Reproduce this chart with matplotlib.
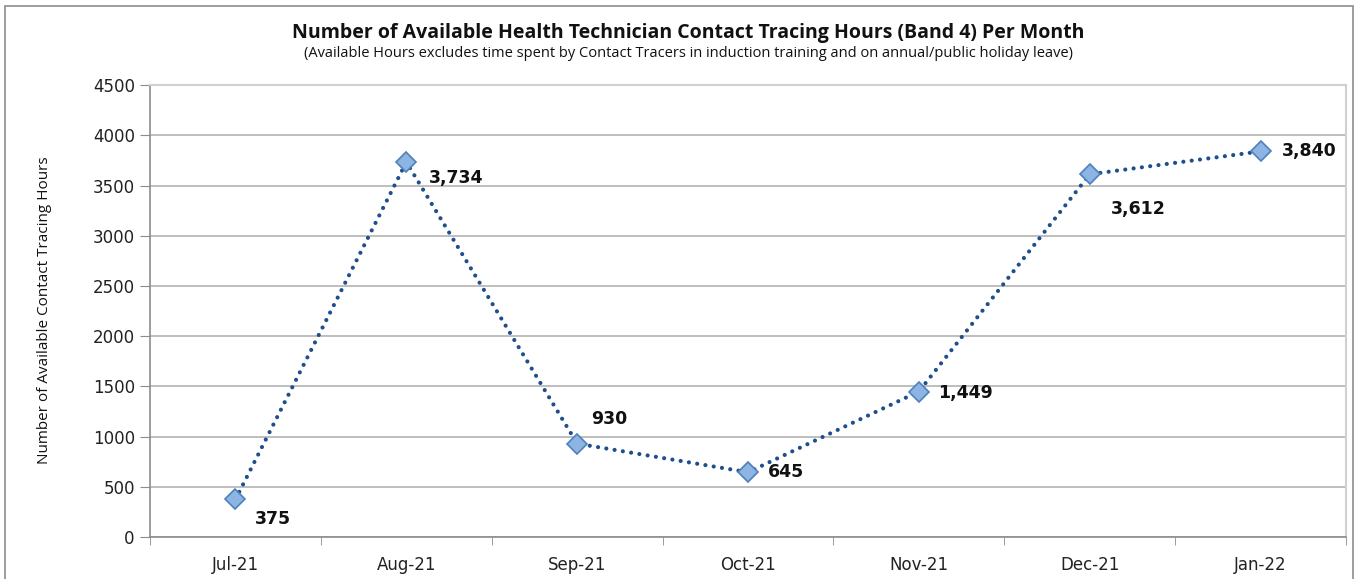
import matplotlib
matplotlib.use("Agg")
import matplotlib.pyplot as plt
from matplotlib.patches import Rectangle

months = ["Jul-21", "Aug-21", "Sep-21", "Oct-21", "Nov-21", "Dec-21", "Jan-22"]
hours = [375, 3734, 930, 645, 1449, 3612, 3840]
labels = ["375", "3,734", "930", "645", "1,449", "3,612", "3,840"]
label_offsets = [(14, -14), (16, -11.5), (10, 18), (14, 0), (14, -1), (15, -25), (15, 0)]
yticks = list(range(0, 4501, 500))

fig = plt.figure(figsize=(13.58, 5.79), dpi=100)
fig.patches.append(Rectangle((0.004, -0.01), 0.992, 1.0, transform=fig.transFigure,
                             fill=False, edgecolor="#8c8c8c", linewidth=1.2))
ax = fig.add_axes([0.1105, 0.0725, 0.8807, 0.7805])

x = list(range(len(months)))
ax.plot(x, hours, linestyle=(0, (0.01, 2.0)), dash_capstyle="round", color="#1f4e8c",
        linewidth=3, marker="D", markersize=10, markerfacecolor="#8db4e2",
        markeredgecolor="#4f81bd", markeredgewidth=1.2, zorder=3)

for xi, yi, lab, (dx, dy) in zip(x, hours, labels, label_offsets):
    ax.annotate(lab, (xi, yi), xytext=(dx, dy), textcoords="offset points",
                ha="left", va="center", fontsize=12.5, fontweight="bold",
                family="DejaVu Sans", color="#111111")

ax.set_xlim(-0.5, len(months) - 0.5)
ax.set_ylim(0, 4500)
ax.set_yticks(yticks)
ax.set_yticklabels([str(v) for v in yticks], fontsize=12, family="DejaVu Sans", color="#222222")
ax.set_xticks(x)
ax.set_xticklabels(months, fontsize=12, family="DejaVu Sans", color="#222222")
ax.set_xticks([i - 0.5 for i in range(len(months) + 1)], minor=True)
ax.tick_params(axis="x", which="major", length=0, pad=14)
ax.tick_params(axis="x", which="minor", length=6, color="#8c8c8c")
ax.tick_params(axis="y", length=7, color="#8c8c8c", pad=4)
ax.grid(axis="y", color="#b3b3b3", linewidth=1.2)
ax.set_axisbelow(True)
for s in ["top", "right"]:
    ax.spines[s].set_color("#d0d0d0")
    ax.spines[s].set_linewidth(1.5)
for s in ["left", "bottom"]:
    ax.spines[s].set_color("#8c8c8c")
    ax.spines[s].set_linewidth(1.2)

fig.text(0.033, 0.465, "Number of Available Contact Tracing Hours", rotation=90,
         ha="center", va="center", fontsize=11, family="Open Sans", color="#111111")
fig.text(0.507, 0.943, "Number of Available Health Technician Contact Tracing Hours (Band 4) Per Month",
         ha="center", va="center", fontsize=14, fontweight="bold", family="Open Sans", color="#111111")
fig.text(0.507, 0.908, "(Available Hours excludes time spent by Contact Tracers in induction training and on annual/public holiday leave)",
         ha="center", va="center", fontsize=10.5, family="Open Sans", color="#111111")

fig.savefig("out.png", dpi=100)
